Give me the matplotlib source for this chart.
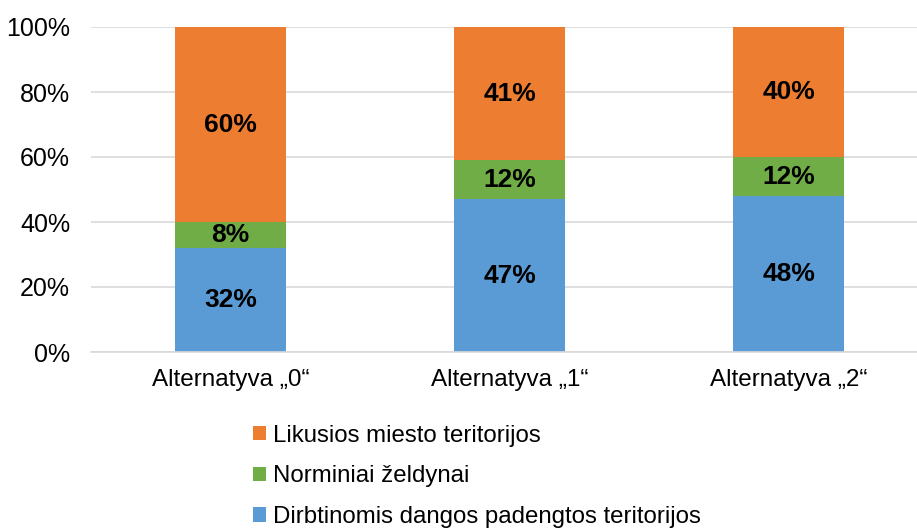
import matplotlib

matplotlib.use("Agg")
import matplotlib.pyplot as plt
import numpy as np

plt.rcParams["font.family"] = ["Liberation Sans", "DejaVu Sans"]

CATEGORIES = ["Alternatyva „0“", "Alternatyva „1“", "Alternatyva „2“"]
SERIES = [
    "Dirbtinomis dangos padengtos teritorijos",
    "Norminiai želdynai",
    "Likusios miesto teritorijos",
]
COVERED = [32, 47, 48]
GREEN = [8, 12, 12]
REST = [60, 41, 40]

COLORS = ["#5b9bd5", "#70ad47", "#ed7d31"]
GRID = "#d9d9d9"

fig = plt.figure(figsize=(9.17, 5.30), dpi=100)
ax = fig.add_axes([91 / 917, 1 - 352 / 530, (917 - 91) / 917, 325 / 530])

x = np.arange(len(CATEGORIES))
bottom = np.zeros(len(CATEGORIES))
handles = []
for values, color, name in zip([COVERED, GREEN, REST], COLORS, SERIES):
    vals = np.array(values, dtype=float)
    bars = ax.bar(x, vals, 0.4, bottom=bottom, color=color, label=name, zorder=2)
    handles.append(bars)
    for xi, b, v in zip(x, bottom, vals):
        ax.text(xi, b + v / 2, f"{v:.0f}%", ha="center", va="center",
                fontsize=19, fontweight="bold", color="black", zorder=3)
    bottom += vals

ax.set_xlim(-0.5, 2.46)
ax.set_ylim(0, 100)
ax.set_yticks(range(0, 101, 20), [f"{t}%" for t in range(0, 101, 20)])
ax.set_xticks(x, CATEGORIES)
ax.yaxis.grid(True, color=GRID, lw=1.2, zorder=0)
ax.set_axisbelow(True)
for side in ("top", "right", "left"):
    ax.spines[side].set_visible(False)
ax.spines["bottom"].set_color(GRID)
ax.spines["bottom"].set_linewidth(1.2)
ax.tick_params(length=0, labelsize=18, colors="black")
ax.tick_params(axis="x", labelsize=17.5, pad=12)
ax.tick_params(axis="y", pad=15)

leg = fig.legend(handles[::-1], SERIES[::-1], loc="upper left",
                 bbox_to_anchor=(243 / 917, 1 - 415 / 530), frameon=False,
                 fontsize=17.3, handlelength=0.55, handleheight=0.55,
                 handletextpad=0.3, labelspacing=0.78, borderaxespad=0)

fig.savefig("out.png", dpi=100)
